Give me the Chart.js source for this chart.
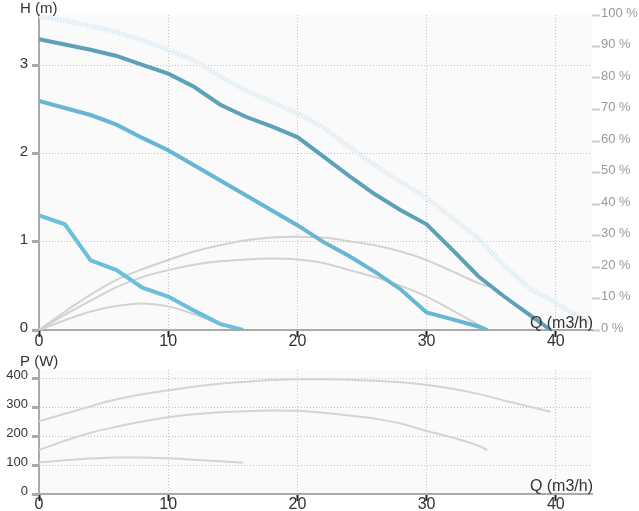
<!DOCTYPE html>
<html>
<head>
<meta charset="utf-8">
<script src="https://cdn.jsdelivr.net/npm/chart.js@4.4.1/dist/chart.umd.min.js"></script>
<style>
    html, body { margin: 0; padding: 0; background: #fff; }
    #chart-h { position: absolute; left: 0; top: 0; }
    #chart-p { position: absolute; left: 0; top: 345px; }
</style>
</head>
<body>
<canvas id="chart-h" width="639" height="350"></canvas>
<canvas id="chart-p" width="639" height="166"></canvas>
<script>
// Krzywe H(Q) dla trzech biegów pompy
const qHigh = [0, 2, 4, 6, 8, 10, 12, 14, 16, 18, 20, 22, 24, 26, 28, 30, 32, 34, 36, 38, 39.6];
const hHigh = [3.30, 3.24, 3.18, 3.11, 3.01, 2.91, 2.76, 2.56, 2.42, 2.31, 2.19, 1.97, 1.75, 1.54, 1.36, 1.20, 0.91, 0.61, 0.38, 0.17, 0];
const qMid = [0, 2, 4, 6, 8, 10, 12, 14, 16, 18, 20, 22, 24, 26, 28, 30, 32, 34, 34.7];
const hMid = [2.60, 2.52, 2.44, 2.33, 2.18, 2.04, 1.87, 1.70, 1.53, 1.36, 1.19, 1.00, 0.84, 0.66, 0.46, 0.20, 0.12, 0.04, 0];
const qLow = [0, 2, 4, 6, 8, 10, 12, 14, 15.8];
const hLow = [1.30, 1.20, 0.79, 0.68, 0.48, 0.38, 0.22, 0.07, 0];
// Krzywa maksymalna (jasna, kropkowana)
const qMax = [0, 2, 4, 6, 8, 10, 12, 14, 16, 18, 20, 22, 24, 26, 28, 30, 32, 34, 36, 38, 40, 42, 42.8];
const hMax = [3.56, 3.51, 3.45, 3.38, 3.29, 3.18, 3.06, 2.88, 2.72, 2.59, 2.46, 2.30, 2.08, 1.87, 1.68, 1.50, 1.27, 1.04, 0.73, 0.47, 0.31, 0.13, 0.07];

// Sprawność (%)
const qEtaHigh = [0, 2, 4, 6, 8, 10, 12, 14, 16, 18, 20, 22, 24, 26, 28, 30, 32, 34, 34.8];
const etaHigh = [0, 5.8, 11.2, 15.9, 19.3, 22.2, 24.9, 26.9, 28.5, 29.4, 29.6, 29.4, 28.2, 26.9, 24.9, 22.2, 18.6, 14.9, 13.8];
const qEtaMid = [0, 2, 4, 6, 8, 10, 12, 14, 16, 18, 20, 22, 24, 26, 28, 30, 32, 34, 34.7];
const etaMid = [0, 4.8, 9.3, 13.6, 16.8, 19.0, 20.7, 21.8, 22.4, 22.7, 22.4, 21.3, 19.0, 16.8, 14.0, 10.6, 6.2, 1.7, 0];
const qEtaLow = [0, 2, 4, 6, 8, 10, 12, 14, 15.8];
const etaLow = [0, 3.1, 5.9, 7.6, 8.4, 7.5, 5.0, 2.0, 0];

// Moc P(Q)
const qPHigh = [0, 2, 4, 6, 8, 10, 12, 14, 16, 18, 20, 22, 24, 26, 28, 30, 32, 34, 36, 38, 39.6];
const pHigh = [253, 279, 305, 329, 347, 361, 373, 383, 390, 396, 399, 399, 397, 394, 388, 379, 366, 348, 325, 303, 286];
const qPMid = [0, 2, 4, 6, 8, 10, 12, 14, 16, 18, 20, 22, 24, 26, 28, 30, 32, 34, 34.7];
const pMid = [153, 185, 213, 234, 252, 267, 277, 284, 288, 290, 289, 282, 273, 262, 245, 219, 196, 168, 153];
const qPLow = [0, 2, 4, 6, 8, 10, 12, 14, 15.8];
const pLow = [110, 117, 123, 127, 127, 124, 119, 114, 109];

const FONT = '"Liberation Sans", Arial, sans-serif';
Chart.defaults.font.family = FONT;
Chart.defaults.color = '#333';

function toPoints(xs, ys) {
    return xs.map((x, i) => ({ x: x, y: ys[i] }));
}

function fixedSize(size) {
    return scale => {
        if (scale.isHorizontal()) scale.height = size;
        else scale.width = size;
    };
}

// Tło obszaru wykresu
const areaBackground = {
    id: 'areaBackground',
    beforeDraw(chart) {
        const { ctx, chartArea } = chart;
        ctx.save();
        ctx.fillStyle = '#fafafa';
        ctx.fillRect(chartArea.left, chartArea.top, chartArea.right - chartArea.left, chartArea.bottom - chartArea.top);
        ctx.restore();
    }
};

// Opisy osi rysowane poziomo (H / P oraz Q)
function axisTitles(yTitle, yTitleBaseline, qLift) {
    return {
        id: 'axisTitles',
        afterDraw(chart) {
            const { ctx, chartArea } = chart;
            ctx.save();
            ctx.fillStyle = '#333';
            ctx.textBaseline = 'alphabetic';
            ctx.font = '15px ' + FONT;
            ctx.textAlign = 'left';
            ctx.fillText(yTitle, 20, yTitleBaseline);
            ctx.font = '16px ' + FONT;
            ctx.textAlign = 'right';
            ctx.fillText('Q (m3/h)', chartArea.right + 1, chartArea.bottom - qLift);
            ctx.restore();
        }
    };
}

function qAxis(labelPadding, height) {
    return {
        type: 'linear',
        min: 0,
        max: 42.8,
        ticks: { stepSize: 10, includeBounds: false, color: '#333', font: { size: 16 }, padding: labelPadding, maxRotation: 0 },
        grid: { color: '#c4c4c4', tickColor: '#222', tickWidth: 2, tickLength: 7 },
        border: { color: '#aaa', width: 2, dash: [1, 2] },
        afterFit: fixedSize(height)
    };
}

function line(xs, ys, color, width, extra) {
    return Object.assign({
        data: toPoints(xs, ys),
        borderColor: color,
        borderWidth: width,
        pointRadius: 0,
        fill: false,
        tension: 0
    }, extra || {});
}

// Gładkie szare krzywe
const smooth = { cubicInterpolationMode: 'monotone' };

const commonOptions = {
    responsive: false,
    animation: false,
    devicePixelRatio: 1,
    events: [],
    plugins: { legend: { display: false }, tooltip: { enabled: false } }
};

// Wykres wysokości podnoszenia i sprawności
new Chart(document.getElementById('chart-h').getContext('2d'), {
    type: 'line',
    data: {
        datasets: [
            line(qHigh, hHigh, '#5ca1b7', 4),
            line(qMid, hMid, '#66b6d4', 4),
            line(qLow, hLow, '#6cbedd', 4),
            line(qEtaHigh, etaHigh, '#d2d2d2', 2, Object.assign({ yAxisID: 'y1' }, smooth)),
            line(qEtaMid, etaMid, '#d2d2d2', 2, Object.assign({ yAxisID: 'y1' }, smooth)),
            line(qEtaLow, etaLow, '#d2d2d2', 2, Object.assign({ yAxisID: 'y1' }, smooth)),
            line(qMax, hMax, '#e1edf4', 5, { borderDash: [2, 1] })
        ]
    },
    options: Object.assign({}, commonOptions, {
        layout: { padding: { top: 15, left: 0, right: 0, bottom: 0 } },
        scales: {
            x: qAxis(-5, 20),
            y: {
                position: 'left',
                min: 0,
                max: 3.575,
                ticks: { stepSize: 1, includeBounds: false, color: '#333', font: { size: 15 }, padding: 4, labelOffset: -2 },
                grid: { color: '#c4c4c4', tickColor: '#aaa', tickWidth: 3, tickLength: 7 },
                border: { color: '#aaa', width: 2, dash: [1, 2] },
                afterFit: fixedSize(39)
            },
            y1: {
                position: 'right',
                min: 0,
                max: 100,
                ticks: { stepSize: 10, color: '#999', font: { size: 13 }, padding: 1, labelOffset: -2, callback: v => v + ' %' },
                grid: { drawOnChartArea: false, tickColor: '#ccc', tickWidth: 2, tickLength: 8 },
                border: { display: false },
                afterFit: fixedSize(47)
            }
        }
    }),
    plugins: [areaBackground, axisTitles('H (m)', 13, 2)]
});

// Wykres mocy
new Chart(document.getElementById('chart-p').getContext('2d'), {
    type: 'line',
    data: {
        datasets: [
            line(qPHigh, pHigh, '#d4d4d4', 2, smooth),
            line(qPMid, pMid, '#d4d4d4', 2, smooth),
            line(qPLow, pLow, '#d4d4d4', 2, smooth)
        ]
    },
    options: Object.assign({}, commonOptions, {
        layout: { padding: { top: 25, left: 0, right: 47, bottom: 0 } },
        scales: {
            x: qAxis(-6, 17),
            y: {
                position: 'left',
                min: 0,
                max: 431,
                ticks: { stepSize: 100, includeBounds: false, color: '#333', font: { size: 13 }, padding: 4, labelOffset: -3 },
                grid: { color: '#c4c4c4', tickColor: '#aaa', tickWidth: 3, tickLength: 7 },
                border: { color: '#aaa', width: 2, dash: [1, 2] },
                afterFit: fixedSize(39)
            }
        }
    }),
    plugins: [areaBackground, axisTitles('P (W)', 21, 3)]
});
</script>
</body>
</html>
